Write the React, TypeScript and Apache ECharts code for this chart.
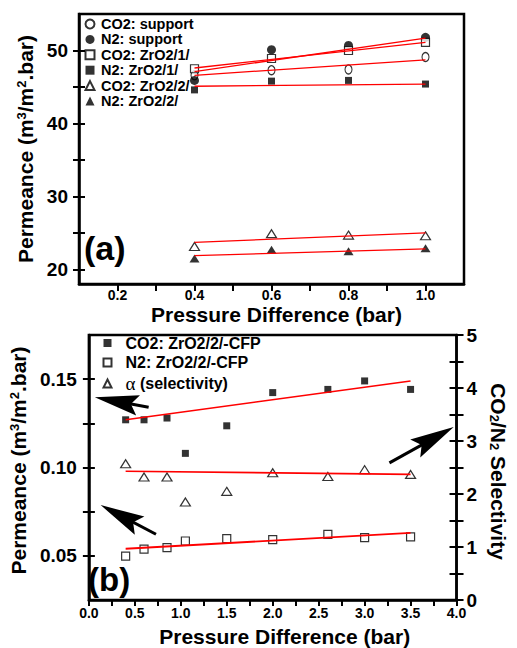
import React, { useEffect, useRef } from 'react';
import * as echarts from 'echarts';

// ---------- Panel (a) ----------
const pressureA = [0.4, 0.6, 0.8, 1.0];
const co2Support = [46.6, 47.3, 47.4, 49.1];
const n2Support = [45.9, 50.1, 50.7, 51.8];
const co2Zr1 = [47.5, 48.9, 50.0, 51.1];
const n2Zr1 = [44.6, 45.8, 45.9, 45.4];
const co2Zr2 = [23.15, 24.9, 24.7, 24.6];
const n2Zr2 = [21.5, 22.7, 22.5, 22.9];

const fitRangeA = [0.4, 1.0];
const fitCo2Support = [46.6, 48.7];
const fitN2Support = [47.1, 51.7];
const fitCo2Zr1 = [47.6, 51.1];
const fitN2Zr1 = [45.1, 45.4];
const fitCo2Zr2 = [23.7, 25.0];
const fitN2Zr2 = [21.9, 22.8];

const xTicksA = [0.2, 0.3, 0.4, 0.5, 0.6, 0.7, 0.8, 0.9, 1.0];
const xLabelsA = [0.2, 0.4, 0.6, 0.8, 1.0];
const yTicksA = [20, 25, 30, 35, 40, 45, 50];
const yLabelsA = [20, 30, 40, 50];

// ---------- Panel (b) ----------
const pressureB = [0.4, 0.6, 0.85, 1.05, 1.5, 2.0, 2.6, 3.0, 3.5];
const co2Cfp = [0.127, 0.127, 0.128, 0.108, 0.1236, 0.1424, 0.1442, 0.149, 0.1442];
const n2Cfp = [0.0498, 0.0538, 0.0547, 0.0584, 0.0597, 0.0592, 0.0622, 0.0603, 0.0607];
const selectivity = [2.57, 2.32, 2.32, 1.85, 2.05, 2.4, 2.33, 2.46, 2.37];

const fitRangeB = [0.4, 3.5];
const fitCo2Cfp = [0.127, 0.149];
const fitN2Cfp = [0.054, 0.063];
const fitSelectivity = [2.43, 2.37];

const xTicksB = [0, 0.25, 0.5, 0.75, 1, 1.25, 1.5, 1.75, 2, 2.25, 2.5, 2.75, 3, 3.25, 3.5, 3.75, 4];
const xLabelsB = [0, 0.5, 1, 1.5, 2, 2.5, 3, 3.5, 4];
const yTicksB = [0.05, 0.075, 0.1, 0.125, 0.15];
const yLabelsB = [0.05, 0.1, 0.15];
const y2TicksB = [0, 0.5, 1, 1.5, 2, 2.5, 3, 3.5, 4, 4.5, 5];
const y2LabelsB = [0, 1, 2, 3, 4, 5];

// annotation arrows in panel (b) (data coords: [tail], [head centre])
const arrowsB = [
  [[0.65, 0.1341], [0.3, 0.1375]],
  [[0.73, 0.0622], [0.34, 0.0729]],
  [[3.27, 0.1026], [3.76, 0.1168]],
];

const FONT = 'Liberation Sans';
const BLACK = '#000';
const RED = '#ff0000';
const ARROW_HEAD = 'path://M7,0 L14,30 L7,25 L0,30 Z';

const pairs = (xs: number[], ys: number[]) => xs.map((x, i) => [x, ys[i]]);

const nameStyle = {
  fontFamily: FONT,
  fontWeight: 'bold',
  fontSize: 21,
  color: BLACK,
  rich: {
    sup: { fontFamily: FONT, fontWeight: 'bold', fontSize: 13, verticalAlign: 'top', color: BLACK },
    sub: { fontFamily: FONT, fontWeight: 'bold', fontSize: 13, verticalAlign: 'bottom', color: BLACK },
  },
};

const labelStyle = (size: number) => ({
  fontFamily: FONT,
  fontWeight: 'bold',
  fontSize: size,
  color: BLACK,
});

function scatter(name: string, xs: number[], ys: number[], symbol: string, size: any, open: boolean, xi: number, yi: number) {
  return {
    type: 'scatter',
    name,
    xAxisIndex: xi,
    yAxisIndex: yi,
    symbol,
    symbolSize: size,
    data: pairs(xs, ys),
    itemStyle: open
      ? { color: '#fff', borderColor: BLACK, borderWidth: 1.2 }
      : { color: BLACK, borderColor: BLACK, borderWidth: 0 },
    z: 2,
    silent: true,
  };
}

function fit(xs: number[], ys: number[], xi: number, yi: number, width: number, extra: any = {}) {
  return {
    type: 'line',
    xAxisIndex: xi,
    yAxisIndex: yi,
    data: pairs(xs, ys),
    symbol: 'none',
    showSymbol: false,
    lineStyle: { color: RED, width },
    z: 3,
    silent: true,
    ...extra,
  };
}

export default function App() {
  const ref = useRef<HTMLDivElement>(null);

  useEffect(() => {
    if (!ref.current) return;
    const chart = echarts.init(ref.current, undefined, { renderer: 'svg' });

    const option: any = {
      animation: false,
      backgroundColor: '#fff',
      grid: [
        { left: 79, top: 14, width: 385, height: 270, show: true, borderColor: BLACK, borderWidth: 2.5, backgroundColor: 'transparent' },
        { left: 84, top: 335, width: 386, height: 267, show: true, borderColor: BLACK, borderWidth: 2.5, backgroundColor: 'transparent' },
      ],
      xAxis: [
        {
          type: 'value', gridIndex: 0, min: 0.1, max: 1.1,
          axisLine: { show: true, onZero: false, lineStyle: { color: BLACK, width: 2.5 } },
          axisTick: { show: true, length: 7, lineStyle: { color: BLACK, width: 2 }, customValues: xTicksA },
          axisLabel: { ...labelStyle(14), customValues: xLabelsA, margin: 4, formatter: (v: number) => v.toFixed(1) },
          splitLine: { show: false },
          name: 'Pressure Difference (bar)', nameLocation: 'middle', nameGap: 20,
          nameTextStyle: { ...nameStyle, padding: [0, 0, 0, 10] },
        },
        {
          type: 'value', gridIndex: 1, min: 0, max: 4,
          axisLine: { show: true, onZero: false, lineStyle: { color: BLACK, width: 2.5 } },
          axisTick: { show: true, length: 6, lineStyle: { color: BLACK, width: 2 }, customValues: xTicksB },
          axisLabel: { ...labelStyle(14), customValues: xLabelsB, margin: 6, formatter: (v: number) => v.toFixed(1) },
          splitLine: { show: false },
          name: 'Pressure Difference (bar)', nameLocation: 'middle', nameGap: 26,
          nameTextStyle: { ...nameStyle, padding: [0, 0, 0, 24] },
        },
      ],
      yAxis: [
        {
          type: 'value', gridIndex: 0, position: 'left', min: 18, max: 55,
          axisLine: { show: true, onZero: false, lineStyle: { color: BLACK, width: 2.5 } },
          axisTick: { show: true, length: 6, lineStyle: { color: BLACK, width: 2 }, customValues: yTicksA },
          axisLabel: { ...labelStyle(19), customValues: yLabelsA, margin: 11 },
          splitLine: { show: false },
          name: 'Permeance (m{sup|3}/m{sup|2}.bar)', nameLocation: 'middle', nameGap: 42, nameRotate: 90,
          nameTextStyle: { ...nameStyle },
        },
        {
          type: 'value', gridIndex: 0, position: 'left', min: 18, max: 55,
          axisLine: { show: false },
          axisTick: { show: true, inside: true, length: 6, lineStyle: { color: BLACK, width: 2 }, customValues: yTicksA },
          axisLabel: { show: false },
          splitLine: { show: false },
        },
        {
          type: 'value', gridIndex: 1, position: 'left', min: 0.025, max: 0.175,
          axisLine: { show: true, onZero: false, lineStyle: { color: BLACK, width: 2.5 } },
          axisTick: { show: true, length: 6, lineStyle: { color: BLACK, width: 2 }, customValues: yTicksB },
          axisLabel: { ...labelStyle(19), customValues: yLabelsB, margin: 12, formatter: (v: number) => v.toFixed(2) },
          splitLine: { show: false },
          name: 'Permeance (m{sup|3}/m{sup|2}.bar)', nameLocation: 'middle', nameGap: 53, nameRotate: 90,
          nameTextStyle: { ...nameStyle, padding: [0, 0, 0, 14] },
        },
        {
          type: 'value', gridIndex: 1, position: 'right', min: 0, max: 5,
          axisLine: { show: true, onZero: false, lineStyle: { color: BLACK, width: 2.5 } },
          axisTick: { show: true, length: 7, lineStyle: { color: BLACK, width: 2 }, customValues: y2TicksB },
          axisLabel: { ...labelStyle(19), customValues: y2LabelsB, margin: 10 },
          splitLine: { show: false },
          name: 'CO{sub|2}/N{sub|2} Selectivity', nameLocation: 'middle', nameGap: 26, nameRotate: -90,
          nameTextStyle: { ...nameStyle, padding: [0, 0, 0, 8] },
        },
        {
          type: 'value', gridIndex: 1, position: 'left', min: 0.025, max: 0.175,
          axisLine: { show: false },
          axisTick: { show: true, inside: true, length: 6, lineStyle: { color: BLACK, width: 2 }, customValues: yTicksB },
          axisLabel: { show: false },
          splitLine: { show: false },
        },
        {
          type: 'value', gridIndex: 1, position: 'right', min: 0, max: 5,
          axisLine: { show: false },
          axisTick: { show: true, inside: true, length: 7, lineStyle: { color: BLACK, width: 2 }, customValues: y2TicksB },
          axisLabel: { show: false },
          splitLine: { show: false },
        },
      ],
      legend: [
        {
          data: ['CO2: support', 'N2: support', 'CO2: ZrO2/1/', 'N2: ZrO2/1/', 'CO2: ZrO2/2/', 'N2: ZrO2/2/'],
          orient: 'vertical', left: 84.5, top: 16.5,
          itemWidth: 9, itemHeight: 9, itemGap: 0.4, padding: 0,
          selectedMode: false,
          textStyle: { ...labelStyle(14.5), lineHeight: 13, padding: [0, 0, 0, 1.5] },
        },
        {
          data: ['CO2: ZrO2/2/-CFP', 'N2: ZrO2/2/-CFP', 'α (selectivity)'],
          orient: 'vertical', left: 102.5, top: 335,
          itemWidth: 8, itemHeight: 8, itemGap: 3.5, padding: 0,
          selectedMode: false,
          formatter: (name: string) => (name.startsWith('α') ? '{g|α} (selectivity)' : name),
          textStyle: {
            ...labelStyle(16), lineHeight: 16, padding: [0, 0, 0, 9],
            rich: { g: { fontFamily: 'Liberation Serif', fontSize: 19, fontWeight: 'normal', color: BLACK } },
          },
        },
      ],
      graphic: [
        { type: 'text', left: 84, top: 231, style: { text: '(a)', font: 'bold 34px "Liberation Sans"', fill: BLACK }, z: 10 },
        { type: 'text', left: 88, top: 563, style: { text: '(b)', font: 'bold 33px "Liberation Sans"', fill: BLACK }, z: 10 },
      ],
      series: [
        scatter('CO2: support', pressureA, co2Support, 'circle', [7, 9], true, 0, 0),
        scatter('N2: support', pressureA, n2Support, 'circle', 9, false, 0, 0),
        scatter('CO2: ZrO2/1/', pressureA, co2Zr1, 'rect', 8, true, 0, 0),
        scatter('N2: ZrO2/1/', pressureA, n2Zr1, 'rect', 7, false, 0, 0),
        scatter('CO2: ZrO2/2/', pressureA, co2Zr2, 'triangle', [10, 8], true, 0, 0),
        scatter('N2: ZrO2/2/', pressureA, n2Zr2, 'triangle', [10, 8], false, 0, 0),
        fit(fitRangeA, fitCo2Support, 0, 0, 1.3),
        fit(fitRangeA, fitN2Support, 0, 0, 1.3),
        fit(fitRangeA, fitCo2Zr1, 0, 0, 1.3),
        fit(fitRangeA, fitN2Zr1, 0, 0, 1.3),
        fit(fitRangeA, fitCo2Zr2, 0, 0, 1.3),
        fit(fitRangeA, fitN2Zr2, 0, 0, 1.3),

        scatter('CO2: ZrO2/2/-CFP', pressureB, co2Cfp, 'rect', 7, false, 1, 2),
        scatter('N2: ZrO2/2/-CFP', pressureB, n2Cfp, 'rect', 8, true, 1, 2),
        scatter('α (selectivity)', pressureB, selectivity, 'triangle', [10, 8], true, 1, 3),
        fit(fitRangeB, fitCo2Cfp, 1, 2, 1.6),
        fit(fitRangeB, fitSelectivity, 1, 3, 1.6),
        fit(fitRangeB, fitN2Cfp, 1, 2, 1.8, {
          markLine: {
            silent: true,
            symbol: ['none', ARROW_HEAD],
            symbolSize: 44,
            symbolKeepAspect: true,
            label: { show: false },
            lineStyle: { color: BLACK, width: 3, type: 'solid' },
            itemStyle: { color: BLACK },
            emphasis: { disabled: true },
            data: arrowsB.map(([a, b]) => [
              { coord: a, symbol: 'none' },
              { coord: b, symbol: ARROW_HEAD, symbolSize: 44, symbolKeepAspect: true },
            ]),
          },
        }),
      ],
    };

    chart.setOption(option);
    return () => chart.dispose();
  }, []);

  return (
    <div
      ref={ref}
      style={{ position: 'absolute', left: 0, top: 0, width: 517, height: 648, background: '#fff' }}
    />
  );
}
